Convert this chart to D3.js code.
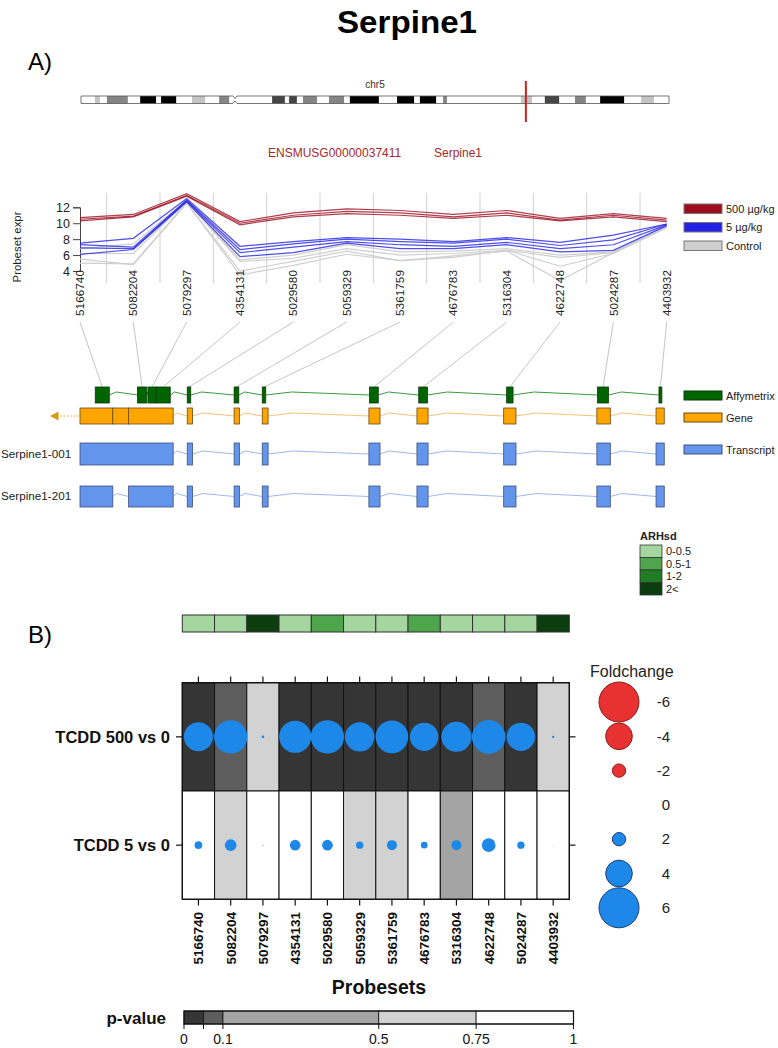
<!DOCTYPE html>
<html><head><meta charset="utf-8">
<script src="https://cdn.jsdelivr.net/npm/d3@7"></script>
<style>
body{margin:0;background:#fff}
svg{display:block}
text{font-family:"Liberation Sans",Arial,Helvetica,sans-serif}
.narrow{font-family:"Liberation Sans Narrow","Liberation Sans",Arial,sans-serif}
</style>
</head><body>
<svg id="c" width="778" height="1048"></svg>
<script>
// ---------------- DATA ----------------
const probes = ["5166740","5082204","5079297","4354131","5029580","5059329","5361759","4676783","5316304","4622748","5024287","4403932"];

// chromosome 5 ideogram (Mb)
const bandStart = [3.6, 6.7, 15.3, 20.7, 28.7, 35.7, 49.4, 53.8, 57.4, 64.1, 69.5, 81.7, 87.6, 93.6, 113.7, 119.9, 127.7, 134.2, 144.8];
const bandEnd   = [4.9, 12.1, 19.4, 24.6, 32.1, 38.3, 52.7, 55.8, 61.0, 68.0, 77.0, 86.1, 91.8, 94.6, 116.6, 123.6, 130.5, 140.4, 148.1];
const bandStain = ["gpos25","gpos50","gpos100","gpos100","gpos25","gpos50","gpos75","gpos75","gpos50","gpos50","gpos100","gpos100","gpos100","gpos50","gpos25","gpos75","gpos50","gpos100","gpos25"];
const chromLength = 152;
const centromere = 39.8;
const geneLocus = 115.0;

// probeset expression (log2)
const expr500 = [
  [10.7, 11.1, 13.7, 10.2, 11.3, 11.8, 11.6, 11.1, 11.6, 10.6, 11.2, 10.6],
  [10.5, 10.9, 13.5, 10.0, 11.0, 11.5, 11.3, 10.8, 11.3, 10.4, 11.0, 10.4],
  [10.3, 10.8, 13.4,  9.8, 10.8, 11.2, 11.0, 10.6, 11.0, 10.3, 10.8, 10.2]
];
const expr5 = [
  [7.5, 8.1, 13.1, 7.1, 7.7, 8.2, 8.0, 7.7, 8.2, 7.6, 8.5, 9.9],
  [7.3, 7.0, 12.9, 6.7, 7.4, 8.0, 7.7, 7.5, 8.0, 7.2, 7.9, 9.9],
  [6.9, 6.8, 12.8, 6.3, 7.0, 7.7, 7.3, 7.1, 7.6, 6.8, 7.3, 9.8],
  [6.1, 6.7, 12.7, 5.8, 6.3, 7.5, 6.8, 6.8, 7.3, 6.4, 6.6, 9.7]
];
const exprCtrl = [
  [6.8, 7.4, 12.9, 5.4, 6.0, 7.3, 6.4, 6.5, 6.8, 6.0, 6.4, 9.6],
  [6.2, 6.2, 12.7, 5.2, 5.6, 6.8, 6.0, 6.2, 6.6, 5.7, 6.3, 9.5],
  [5.5, 4.8, 12.5, 4.0, 5.2, 6.5, 5.3, 5.7, 6.6, 4.6, 6.2, 9.4],
  [5.0, 4.9, 12.6, 3.5, 4.7, 6.1, 5.3, 5.9, 6.5, 2.8, 6.3, 9.5]
];
const exprYTicks = [4, 6, 8, 10, 12];
const exprGroups = ["500 µg/kg", "5 µg/kg", "Control"];

// gene model (relative gene coordinate 0..1000)
const affyStart = [26, 98, 116, 130, 183, 263, 311, 494, 578, 728, 883, 988];
const affyEnd   = [50, 114, 130, 154, 189, 271, 317, 509, 593, 739, 902, 993];
const geneStart = [0, 56, 83, 183, 263, 311, 493, 575, 723, 882, 983];
const geneEnd   = [56, 83, 159, 192, 272, 321, 512, 594, 744, 905, 997];
const tx001Start = [0, 183, 263, 311, 493, 575, 723, 882, 983];
const tx001End   = [159, 192, 272, 321, 512, 594, 744, 905, 997];
const tx201Start = [0, 83, 183, 263, 311, 493, 575, 723, 882, 983];
const tx201End   = [56, 159, 192, 272, 321, 512, 594, 744, 905, 997];
const transcripts = ["Serpine1-001", "Serpine1-201"];
const trackNames = ["Affymetrix", "Gene", "Transcript"];

// panel B
const arhsd = [0.3, 0.3, 2.5, 0.3, 0.8, 0.3, 0.3, 0.8, 0.3, 0.3, 0.3, 2.5];
const arhsdLabels = ["0-0.5", "0.5-1", "1-2", "2<"];
const contrasts = ["TCDD 500 vs 0", "TCDD 5 vs 0"];
const fc500 = [4.35, 5.0, 0.4, 4.8, 5.0, 4.4, 4.9, 4.25, 4.5, 5.05, 4.25, 0.35];
const fc5   = [1.15, 1.75, -0.15, 1.6, 1.6, 1.1, 1.5, 1.0, 1.5, 2.05, 1.1, 0.1];
const pv500 = [0.01, 0.07, 0.6, 0.01, 0.01, 0.01, 0.01, 0.01, 0.01, 0.07, 0.01, 0.6];
const pv5   = [0.9, 0.6, 0.9, 0.9, 0.9, 0.6, 0.6, 0.9, 0.3, 0.9, 0.9, 0.9];
const fcLegend = [-6, -4, -2, 0, 2, 4, 6];
const pBreaks = [0, 0.05, 0.1, 0.5, 0.75, 1];
const pTickLabels = [0, 0.1, 0.5, 0.75, 1];

// ---------------- DRAW ----------------
const svg = d3.select("#c");

svg.append("text").attr("x", 407).attr("y", 33).attr("text-anchor", "middle")
  .style("font-size", "32px").style("font-weight", "bold")
  .attr("textLength", 140).attr("lengthAdjust", "spacingAndGlyphs").text("Serpine1");

svg.append("text").attr("x", 28).attr("y", 70).style("font-size", "24px").text("A)");
svg.append("text").attr("x", 28).attr("y", 643).style("font-size", "24px").text("B)");

// ---- chromosome ideogram
const cx = d3.scaleLinear().domain([0, chromLength]).range([81, 669]);
const stainCol = {gpos25: "#c4c4c4", gpos50: "#858585", gpos75: "#454545", gpos100: "#000000"};
const cTop = 96, cBot = 103.5;
svg.append("rect").attr("x", cx(0)).attr("y", cTop).attr("width", cx(chromLength) - cx(0)).attr("height", cBot - cTop).attr("fill", "#fff");
svg.append("g").selectAll("rect").data(bandStart).join("rect")
  .attr("x", (d) => cx(d)).attr("y", cTop)
  .attr("width", (d, i) => cx(bandEnd[i]) - cx(d)).attr("height", cBot - cTop)
  .attr("fill", (d, i) => stainCol[bandStain[i]]);
const cc = cx(centromere);
svg.append("path")
  .attr("d", `M${cx(0)},${cTop}H${cc - 2}L${cc},${cTop + 2.5}L${cc + 2},${cTop}H${cx(chromLength)}V${cBot}H${cc + 2}L${cc},${cBot - 2.5}L${cc - 2},${cBot}H${cx(0)}Z`)
  .attr("fill", "none").attr("stroke", "#555").attr("stroke-width", 0.8);
svg.append("line").attr("x1", cx(geneLocus)).attr("x2", cx(geneLocus)).attr("y1", 81).attr("y2", 122)
  .attr("stroke", "#cc1f1f").attr("stroke-width", 2);
svg.append("text").attr("x", 375).attr("y", 88).attr("text-anchor", "middle").style("font-size", "10px").attr("fill", "#333").text("chr5");

svg.append("text").attr("x", 268).attr("y", 157).style("font-size", "12px").attr("fill", "#a32a2a").text("ENSMUSG00000037411");
svg.append("text").attr("x", 434).attr("y", 157).style("font-size", "12px").attr("fill", "#a32a2a").text("Serpine1");

// ---- expression plot
const ex = d3.scalePoint().domain(probes).range([80, 666.7]);
const ey = d3.scaleLinear().domain([4, 12]).range([271, 207.3]);
const gridG = svg.append("g");
probes.slice(0, -1).forEach((p, i) => {
  const gxp = (ex(p) + ex(probes[i + 1])) / 2;
  gridG.append("line").attr("x1", gxp).attr("x2", gxp).attr("y1", 193).attr("y2", 283)
    .attr("stroke", "#d0d0d0").attr("stroke-width", 1);
});
const yAxis = d3.axisLeft(ey).tickValues(exprYTicks).tickSize(7).tickPadding(3);
const yg = svg.append("g").attr("transform", "translate(80,0)").call(yAxis);
yg.select(".domain").attr("stroke", "#444");
yg.selectAll(".tick line").attr("stroke", "#444");
yg.selectAll("text").style("font-size", "12.5px").attr("fill", "#222").style("font-family", '"Liberation Sans",Arial,sans-serif');
svg.append("text").attr("transform", "translate(21,247) rotate(-90)").attr("text-anchor", "middle")
  .style("font-size", "11.4px").attr("fill", "#222").text("Probeset expr");

const line = d3.line().x((d, i) => ex(probes[i])).y((d) => ey(d));
const seriesCol = ["#9b0d1e", "#2222e6", "#cfcfcf"];
[exprCtrl, expr5, expr500].forEach((grp, gi) => {
  const col = [seriesCol[2], seriesCol[1], seriesCol[0]][gi];
  svg.append("g").selectAll("path").data(grp).join("path")
    .attr("d", line).attr("fill", "none").attr("stroke", col)
    .attr("stroke-width", 1.2).attr("stroke-opacity", gi === 0 ? 1 : 0.8);
});
// legend
exprGroups.forEach((g, i) => {
  const y = 204 + i * 18.5;
  svg.append("rect").attr("x", 684).attr("y", y).attr("width", 38).attr("height", 9.5)
    .attr("fill", seriesCol[i]).attr("stroke", "#777").attr("stroke-width", 1);
  svg.append("text").attr("class", "narrow").attr("x", 726).attr("y", y + 8.5).style("font-size", "11px").attr("fill", "#222").text(g);
});

// probe labels
svg.append("g").selectAll("text").data(probes).join("text")
  .attr("transform", (d) => `translate(${ex(d)},270) rotate(-90)`)
  .attr("text-anchor", "end").attr("dy", "0.35em")
  .style("font-size", "11.8px").attr("fill", "#222").text((d) => d);

// ---- gene model
const gx = d3.scaleLinear().domain([0, 1000]).range([80, 666]);
svg.append("g").selectAll("line").data(probes).join("line")
  .attr("x1", (d) => ex(d)).attr("y1", 322)
  .attr("x2", (d, i) => gx((affyStart[i] + affyEnd[i]) / 2)).attr("y2", 387)
  .attr("stroke", "#bdbdbd").attr("stroke-width", 0.9);

function mergeIntervals(s, e) {
  const iv = s.map((d, i) => [d, e[i]]).sort((a, b) => a[0] - b[0]);
  const out = [];
  iv.forEach((v) => {
    if (out.length && v[0] <= out[out.length - 1][1]) out[out.length - 1][1] = Math.max(out[out.length - 1][1], v[1]);
    else out.push([v[0], v[1]]);
  });
  return out;
}
function drawTrack(starts, ends, y0, y1, fill, stroke, intronCol) {
  const g = svg.append("g");
  const m = mergeIntervals(starts, ends);
  const ym = (y0 + y1) / 2;
  for (let i = 0; i < m.length - 1; i++) {
    const a = gx(m[i][1]), b = gx(m[i + 1][0]);
    if (b - a < 1) continue;
    g.append("path").attr("d", `M${a},${ym}L${a + (b - a) * 0.25},${ym - 3}L${b},${ym}`)
      .attr("fill", "none").attr("stroke", intronCol).attr("stroke-width", 1);
  }
  g.selectAll("rect").data(starts).join("rect")
    .attr("x", (d) => gx(d)).attr("y", y0)
    .attr("width", (d, i) => gx(ends[i]) - gx(d)).attr("height", y1 - y0)
    .attr("fill", fill).attr("stroke", stroke).attr("stroke-width", 0.8);
}
drawTrack(affyStart, affyEnd, 387, 403, "#006400", "#0b3b0b", "#3a9a3a");
// strand arrow
svg.append("line").attr("x1", 60).attr("x2", gx(0)).attr("y1", 416).attr("y2", 416)
  .attr("stroke", "#f0a830").attr("stroke-width", 1).attr("stroke-dasharray", "1.5,2");
svg.append("path").attr("d", "M50,416L58.5,411.5L58.5,420.5Z").attr("fill", "#d49a10");
drawTrack(geneStart, geneEnd, 408, 424, "#ffa500", "#6b4a10", "#f7c27a");
drawTrack(tx001Start, tx001End, 443, 465, "#6495ed", "#3d4f7a", "#9db8ef");
drawTrack(tx201Start, tx201End, 486, 507, "#6495ed", "#3d4f7a", "#9db8ef");
transcripts.forEach((t, i) => {
  svg.append("text").attr("x", 1).attr("y", [458, 500][i]).style("font-size", "11.7px").attr("fill", "#222").text(t);
});
const trackFill = ["#006400", "#ffa500", "#6495ed"];
const trackStroke = ["#0b3b0b", "#6b4a10", "#3d4f7a"];
trackNames.forEach((t, i) => {
  const y = [391, 413, 445][i];
  svg.append("rect").attr("x", 684).attr("y", y).attr("width", 38).attr("height", 9)
    .attr("fill", trackFill[i]).attr("stroke", trackStroke[i]).attr("stroke-width", 1);
  svg.append("text").attr("class", "narrow").attr("x", 726).attr("y", y + 8.5).style("font-size", "11px").attr("fill", "#222").text(t);
});

// ---------------- PANEL B ----------------
const mx = d3.scaleBand().domain(probes).range([182.3, 569.3]);
const my = d3.scaleBand().domain(contrasts).range([682.7, 899.3]);
const arCol = d3.scaleThreshold().domain([0.5, 1, 2]).range(["#a6d6a0", "#4ea54b", "#1f7d24", "#0c3d0e"]);

// ARHsd bar
svg.append("g").selectAll("rect").data(arhsd).join("rect")
  .attr("x", (d, i) => mx(probes[i])).attr("y", 615).attr("width", mx.bandwidth()).attr("height", 17)
  .attr("fill", (d) => arCol(d)).attr("stroke", "#333").attr("stroke-width", 1);
// ARHsd legend
svg.append("text").attr("x", 640).attr("y", 540).style("font-size", "11px").style("font-weight", "bold").attr("fill", "#222").text("ARHsd");
arhsdLabels.forEach((l, i) => {
  const y = 545 + i * 12.5;
  svg.append("rect").attr("x", 640).attr("y", y).attr("width", 22).attr("height", 12.5)
    .attr("fill", arCol.range()[i]).attr("stroke", "#333").attr("stroke-width", 0.8);
  svg.append("text").attr("x", 666).attr("y", y + 10).style("font-size", "11px").attr("fill", "#222").text(l);
});

// matrix
const pCol = d3.scaleThreshold().domain([0.05, 0.1, 0.5, 0.75]).range(["#353535", "#5d5d5d", "#a4a4a4", "#d2d2d2", "#ffffff"]);
const pvRows = [pv500, pv5];
const fcRows = [fc500, fc5];
const rScale = d3.scaleLinear().domain([0, 6]).range([0, 20]);
const mg = svg.append("g");
contrasts.forEach((c, ri) => {
  probes.forEach((p, ci) => {
    mg.append("rect").attr("x", mx(p)).attr("y", my(c)).attr("width", mx.bandwidth()).attr("height", my.bandwidth())
      .attr("fill", pCol(pvRows[ri][ci])).attr("stroke", "#111").attr("stroke-width", 1);
  });
});
contrasts.forEach((c, ri) => {
  mg.append("g").selectAll("circle").data(fcRows[ri]).join("circle")
    .attr("cx", (d, i) => mx(probes[i]) + mx.bandwidth() / 2)
    .attr("cy", my(c) + my.bandwidth() / 2)
    .attr("r", (d) => rScale(Math.abs(d)))
    .attr("fill", (d) => d >= 0 ? "#1e88e8" : "#e83232");
});
mg.append("rect").attr("x", 182.3).attr("y", 682.7).attr("width", 387).attr("height", 216.6)
  .attr("fill", "none").attr("stroke", "#111").attr("stroke-width", 1.3);
// ticks
const tg = svg.append("g").attr("stroke", "#111").attr("stroke-width", 1.2);
probes.forEach((p) => {
  const x = mx(p) + mx.bandwidth() / 2;
  tg.append("line").attr("x1", x).attr("x2", x).attr("y1", 676.5).attr("y2", 682.7);
  tg.append("line").attr("x1", x).attr("x2", x).attr("y1", 899.3).attr("y2", 905.5);
});
contrasts.forEach((c) => {
  const y = my(c) + my.bandwidth() / 2;
  tg.append("line").attr("x1", 176).attr("x2", 182.3).attr("y1", y).attr("y2", y);
  tg.append("line").attr("x1", 569.3).attr("x2", 575.5).attr("y1", y).attr("y2", y);
  svg.append("text").attr("x", 170).attr("y", y).attr("dy", "0.35em").attr("text-anchor", "end")
    .style("font-size", "16.5px").style("font-weight", "bold").attr("fill", "#111").text(c);
});
// x labels
svg.append("g").selectAll("text").data(probes).join("text")
  .attr("transform", (d) => `translate(${mx(d) + mx.bandwidth() / 2},912) rotate(-90)`)
  .attr("text-anchor", "end").attr("dy", "0.36em")
  .style("font-size", "13.5px").style("font-weight", "bold").attr("fill", "#111").text((d) => d);
svg.append("text").attr("x", 379).attr("y", 994).attr("text-anchor", "middle")
  .style("font-size", "19.5px").style("font-weight", "bold").attr("fill", "#111").text("Probesets");

// foldchange legend
svg.append("text").attr("x", 590).attr("y", 677).style("font-size", "16px").attr("fill", "#222").text("Foldchange");
fcLegend.forEach((v, i) => {
  const y = 702 + i * 34.3;
  if (v !== 0) {
    svg.append("circle").attr("cx", 619).attr("cy", y).attr("r", rScale(Math.abs(v)))
      .attr("fill", v > 0 ? "#1e88e8" : "#e83232").attr("stroke", v > 0 ? "#1d3f73" : "#8a1c1c").attr("stroke-width", 1);
  }
  svg.append("text").attr("x", 670).attr("y", y).attr("dy", "0.35em").attr("text-anchor", "end")
    .style("font-size", "15px").attr("fill", "#222").text(v);
});

// p-value bar
const px = d3.scaleLinear().domain([0, 1]).range([184, 573.5]);
const pg = svg.append("g");
pBreaks.slice(0, -1).forEach((b, i) => {
  pg.append("rect").attr("x", px(b)).attr("y", 1011).attr("width", px(pBreaks[i + 1]) - px(b)).attr("height", 13)
    .attr("fill", pCol((b + pBreaks[i + 1]) / 2)).attr("stroke", "#111").attr("stroke-width", 0.8);
});
pg.append("rect").attr("x", px(0)).attr("y", 1011).attr("width", px(1) - px(0)).attr("height", 13)
  .attr("fill", "none").attr("stroke", "#111").attr("stroke-width", 1.2);
pBreaks.forEach((b) => {
  pg.append("line").attr("x1", px(b)).attr("x2", px(b)).attr("y1", 1024).attr("y2", 1029).attr("stroke", "#111");
});
pTickLabels.forEach((b) => {
  pg.append("text").attr("class", "narrow").attr("x", px(b)).attr("y", 1044).attr("text-anchor", "middle")
    .style("font-size", "14px").attr("fill", "#111").text(b);
});
svg.append("text").attr("x", 166).attr("y", 1024).attr("text-anchor", "end")
  .style("font-size", "17px").style("font-weight", "bold").attr("fill", "#111").text("p-value");
</script>
</body></html>
